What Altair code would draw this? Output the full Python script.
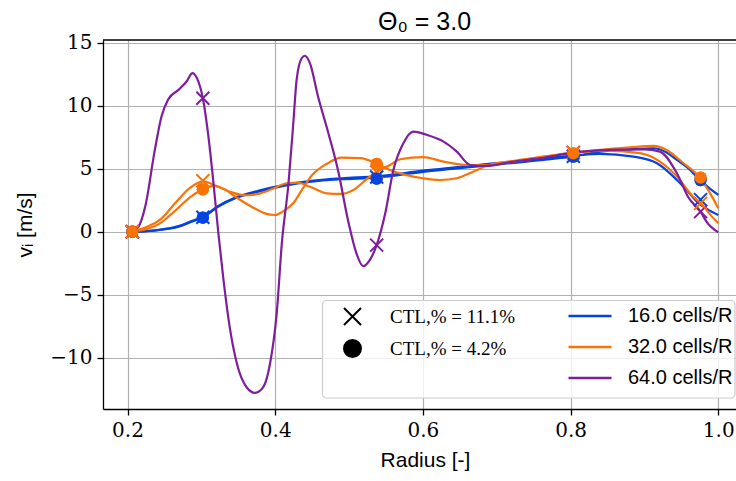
import altair as alt
import pandas as pd

# ---------------- data ----------------
RES = ["16.0 cells/R", "32.0 cells/R", "64.0 cells/R"]
COLORS = ["#0343df", "#f97306", "#7e1e9c"]
CASES = ["CTL,% = 11.1%", "CTL,% = 4.2%"]

# 16 cells/R, C=4.2%
b42_r = [0.2065, 0.225, 0.242, 0.269, 0.287, 0.302, 0.323, 0.346, 0.377, 0.413, 0.449, 0.49, 0.538, 0.6, 0.7, 0.805, 0.84, 0.88, 0.912, 0.93, 0.944, 0.958, 0.971, 0.985, 1.0]
b42_v = [0, 0.05, 0.13, 0.4, 0.8, 1.15, 2.0, 2.66, 3.18, 3.66, 3.98, 4.17, 4.3, 4.75, 5.35, 6.0, 6.36, 6.55, 6.63, 6.3, 5.7, 5.1, 4.37, 3.6, 2.92]
# 16 cells/R, C=11.1%
b111_r = [0.2065, 0.225, 0.242, 0.269, 0.287, 0.302, 0.323, 0.346, 0.377, 0.413, 0.449, 0.49, 0.538, 0.6, 0.7, 0.805, 0.84, 0.885, 0.917, 0.944, 0.958, 0.971, 0.985, 1.0]
b111_v = [0, 0.05, 0.15, 0.45, 0.85, 1.2, 2.05, 2.72, 3.25, 3.72, 4.05, 4.25, 4.4, 4.85, 5.45, 6.05, 6.18, 5.97, 5.44, 4.11, 3.25, 2.39, 1.8, 1.33]
# 32 cells/R, C=4.2%
o42_r = [0.2065, 0.225, 0.245, 0.265, 0.285, 0.302, 0.316, 0.332, 0.346, 0.368, 0.386, 0.4, 0.41, 0.425, 0.437, 0.45, 0.47, 0.49, 0.515, 0.5374, 0.5555, 0.578, 0.6, 0.623, 0.646, 0.668, 0.69, 0.72, 0.76, 0.805, 0.84, 0.88, 0.912, 0.93, 0.953, 0.975, 0.989, 1.0]
o42_v = [0, 0.2, 0.7, 1.7, 2.75, 3.37, 3.65, 3.35, 2.78, 1.99, 1.46, 1.33, 1.6, 2.3, 3.4, 4.5, 5.4, 5.88, 5.84, 5.42, 4.9, 4.5, 4.25, 4.11, 4.25, 4.77, 5.3, 5.6, 5.95, 6.25, 6.5, 6.7, 6.82, 6.5, 5.44, 4.3, 3.05, 1.86]
# 32 cells/R, C=11.1%
o111_r = [0.2065, 0.225, 0.245, 0.265, 0.285, 0.302, 0.32, 0.34, 0.36, 0.38, 0.398, 0.4156, 0.43, 0.447, 0.47, 0.488, 0.506, 0.528, 0.542, 0.5555, 0.569, 0.6, 0.628, 0.66, 0.69, 0.72, 0.76, 0.805, 0.85, 0.894, 0.921, 0.944, 0.966, 0.9775, 0.99, 1.0]
o111_v = [0, 0.35, 1.0, 2.3, 3.5, 4.0, 3.65, 3.15, 2.9, 3.05, 3.45, 3.85, 3.9, 3.58, 3.05, 3.0, 3.32, 4.38, 4.9, 5.3, 5.76, 5.92, 5.57, 5.3, 5.3, 5.55, 5.9, 6.3, 6.45, 6.24, 5.57, 4.38, 2.78, 2.2, 1.3, 0.67]
# 64 cells/R, C=11.1%
p111_r = [0.2065, 0.215, 0.224, 0.237, 0.246, 0.255, 0.269, 0.28, 0.288, 0.294, 0.302, 0.309, 0.316, 0.323, 0.33, 0.339, 0.348, 0.361, 0.373, 0.384, 0.393, 0.402, 0.409, 0.418, 0.4245, 0.429, 0.436, 0.44, 0.447, 0.458, 0.472, 0.485, 0.499, 0.51, 0.519, 0.528, 0.5374, 0.549, 0.56, 0.5735, 0.587, 0.605, 0.628, 0.646, 0.664, 0.686, 0.72, 0.76, 0.805, 0.85, 0.9, 0.921, 0.944, 0.959, 0.977, 0.984, 1.0]
p111_v = [0, 0.4, 2.0, 6.5, 9.15, 10.5, 11.27, 11.93, 12.6, 12.2, 10.6, 7.83, 4.1, -0.1, -3.84, -7.8, -10.45, -12.33, -12.8, -12.33, -10.47, -6.5, -0.9, 3.85, 8.62, 12.07, 13.8, 13.98, 13.4, 10.74, 7.83, 4.9, 0.8, -1.72, -2.73, -2.25, -1.06, 1.46, 4.9, 7.03, 7.96, 7.7, 7.16, 6.36, 5.3, 5.23, 5.55, 5.85, 6.3, 6.5, 6.55, 6.36, 4.64, 2.78, 1.5, 0.8, -0.05]

# markers
mark_r = [0.2065, 0.302, 0.5374, 0.8037, 0.976]
b111_m = [0, 1.15, 4.35, 6.0, 2.55]
b42_m = [0, 1.12, 4.22, 5.97, 4.1]
o111_m = [0, 4.05, 4.75, 6.3, 2.25]
o42_m = [0, 3.37, 5.39, 6.23, 4.3]
p111_m = [0, 10.6, -1.06, 6.3, 1.6]

X_TICKS = [0.2, 0.4, 0.6, 0.8, 1.0]
Y_TICKS = [-10, -5, 0, 5, 10, 15]

# ---------------- tables ----------------
line_rows = []
for rr, vv, res, case in [
    (b111_r, b111_v, RES[0], CASES[0]), (b42_r, b42_v, RES[0], CASES[1]),
    (o111_r, o111_v, RES[1], CASES[0]), (o42_r, o42_v, RES[1], CASES[1]),
    (p111_r, p111_v, RES[2], CASES[0])]:
    for a, b in zip(rr, vv):
        line_rows.append({"r": a, "v": b, "res": res, "case": case})
lines_df = pd.DataFrame(line_rows)

mk_rows = []
for vv, res, case in [
    (b111_m, RES[0], CASES[0]), (b42_m, RES[0], CASES[1]),
    (p111_m, RES[2], CASES[0]),
    (o111_m, RES[1], CASES[0]), (o42_m, RES[1], CASES[1])]:
    for a, b in zip(mark_r, vv):
        mk_rows.append({"r": a, "v": b, "res": res, "case": case})
mk_df = pd.DataFrame(mk_rows)

# ---------------- encodings ----------------
xs = alt.Scale(domain=[0.1668, 1.024], nice=False, zero=False)
ys = alt.Scale(domain=[-14.08, 15.23], nice=False, zero=False)

x_enc = alt.X("r:Q", scale=xs, axis=alt.Axis(
    values=X_TICKS, format=".1f", title="Radius [-]", titleX=322))
y_enc = alt.Y("v:Q", scale=ys, axis=alt.Axis(
    values=Y_TICKS, format="d", title="vᵢ [m/s]"))

color_legend = alt.Legend(
    title=None, orient="none", legendX=477, legendY=266,
    symbolType="M-2.5,0L2.5,0", symbolSize=296, symbolStrokeWidth=2.5,
    labelFont="Liberation Sans", labelFontSize=20, labelColor="black",
    labelOffset=28, rowPadding=11, padding=0)
color_enc = alt.Color("res:N", scale=alt.Scale(domain=RES, range=COLORS),
                      legend=color_legend)

shape_legend = alt.Legend(
    title=None, orient="none", legendX=240, legendY=267,
    symbolSize=289, symbolFillColor="black", symbolStrokeColor="black",
    symbolStrokeWidth=2, labelFont="Liberation Serif", labelFontSize=19,
    labelColor="black", labelOffset=28, rowPadding=7, padding=0)
shape_enc = alt.Shape("case:N", scale=alt.Scale(
    domain=CASES, range=["M-1,-1L1,1M-1,1L1,-1", "circle"]), legend=shape_legend)

lines = alt.Chart(lines_df).mark_line(strokeWidth=2.2, interpolate="monotone").encode(
    x=x_enc, y=y_enc, color=color_enc, detail="case:N")

# filled layer first so that the shared legend symbols are filled
omk_first = alt.Chart(mk_df).transform_filter(alt.datum.case == CASES[1]).mark_point(
    filled=True, size=150, opacity=1).encode(
    x=x_enc, y=y_enc, color=color_enc, shape=shape_enc)

xmk = alt.Chart(mk_df).transform_filter(alt.datum.case == CASES[0]).mark_point(
    filled=False, size=169, strokeWidth=2, opacity=1).encode(
    x=x_enc, y=y_enc, color=color_enc, shape=shape_enc)

omk = alt.Chart(mk_df).transform_filter(alt.datum.case == CASES[1]).mark_point(
    filled=True, size=150, opacity=1).encode(
    x=x_enc, y=y_enc, color=color_enc, shape=shape_enc)

one = alt.Data(values=[{"k": 1}])
legend_box = alt.Chart(one).mark_rect(
    fill="white", fillOpacity=0.8, stroke="#cccccc", strokeWidth=1.2, cornerRadius=4
).encode(x=alt.value(219.5), x2=alt.value(632), y=alt.value(260.5), y2=alt.value(358))

top_spine = alt.Chart(one).mark_rule(color="black", strokeWidth=1.3).encode(
    x=alt.value(0), x2=alt.value(633), y=alt.value(0))

chart = alt.layer(lines, omk_first, xmk, omk, legend_box, top_spine).properties(
    width=633, height=369,
    title=alt.Title("Θ₀ = 3.0", fontSize=25, font="Liberation Sans",
                    fontWeight="normal", color="black", offset=7, dx=5, dy=9),
    autosize=alt.AutoSizeParams(type="none"),
    padding={"left": 103, "top": 40, "right": 0, "bottom": 72},
).configure_view(stroke=None).configure_axis(
    domainColor="black", domainWidth=1.3, tickColor="black", tickWidth=1.3,
    tickSize=6, gridColor="#b0b0b0", gridWidth=1.2, labelFont="DejaVu Serif",
    labelFontSize=20, labelColor="black", titleFont="Liberation Sans",
    titleFontSize=21, titleFontWeight="normal", titleColor="black",
    labelPadding=5,
).configure_axisY(titlePadding=14).configure_axisX(titlePadding=9)

chart.save("out.html", embed_options={"renderer": "svg", "actions": False})
